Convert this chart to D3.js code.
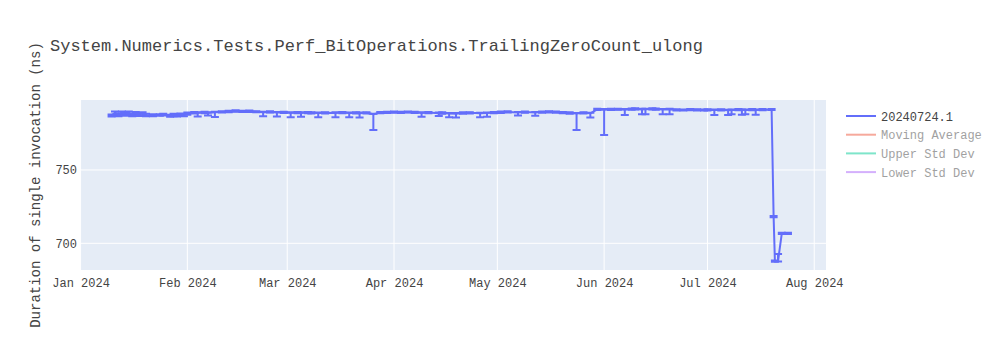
<!DOCTYPE html>
<html>
<head>
<meta charset="utf-8">
<script src="https://cdn.jsdelivr.net/npm/d3@7"></script>
<style>
  html, body { margin: 0; padding: 0; background: #fff; }
  svg { display: block; }
  text { font-family: "Liberation Mono", "Courier New", monospace; }
</style>
</head>
<body>
<svg id="chart" width="1000" height="350"></svg>
<script>
const chartTitle = "System.Numerics.Tests.Perf_BitOperations.TrailingZeroCount_ulong";
const yAxisTitle = "Duration of single invocation (ns)";
const legendNames = ["20240724.1", "Moving Average", "Upper Std Dev", "Lower Std Dev"];
const legendVisible = [true, false, false, false];
const xTickDates = ["2024-01-01","2024-02-01","2024-03-01","2024-04-01","2024-05-01","2024-06-01","2024-07-01","2024-08-01"];
const xTickLabels = ["Jan 2024","Feb 2024","Mar 2024","Apr 2024","May 2024","Jun 2024","Jul 2024","Aug 2024"];
const yTickValues = [700, 750];
const xDomain = ["2023-12-31T20:00", "2024-08-04T10:00"];
const yDomain = [681.8, 797.7];

const dates = [
 "2024-01-10","2024-01-11","2024-01-12","2024-01-13","2024-01-14","2024-01-15","2024-01-16","2024-01-17","2024-01-18","2024-01-19",
 "2024-01-20","2024-01-22","2024-01-24","2024-01-25","2024-01-27","2024-01-28","2024-01-29","2024-01-30","2024-01-31","2024-02-01",
 "2024-02-03","2024-02-04","2024-02-06","2024-02-07","2024-02-09","2024-02-11","2024-02-13","2024-02-15","2024-02-17","2024-02-19",
 "2024-02-21","2024-02-23","2024-02-25","2024-02-27","2024-02-29","2024-03-02","2024-03-04","2024-03-05","2024-03-07","2024-03-08",
 "2024-03-10","2024-03-12","2024-03-15","2024-03-17","2024-03-19","2024-03-21","2024-03-22","2024-03-24","2024-03-26","2024-03-28",
 "2024-03-30","2024-04-01","2024-04-03","2024-04-05","2024-04-07","2024-04-09","2024-04-11","2024-04-14","2024-04-15","2024-04-17",
 "2024-04-19","2024-04-21","2024-04-23","2024-04-26","2024-04-28","2024-04-30","2024-05-02","2024-05-04","2024-05-07","2024-05-09",
 "2024-05-12","2024-05-14","2024-05-16","2024-05-18","2024-05-20","2024-05-22","2024-05-24","2024-05-26","2024-05-28","2024-05-30",
 "2024-06-01","2024-06-03","2024-06-05","2024-06-07","2024-06-09","2024-06-10","2024-06-12","2024-06-13","2024-06-15","2024-06-16",
 "2024-06-18","2024-06-20","2024-06-22","2024-06-24","2024-06-26","2024-06-28","2024-06-30","2024-07-01","2024-07-03","2024-07-05",
 "2024-07-07","2024-07-08","2024-07-10","2024-07-11","2024-07-12","2024-07-14","2024-07-15","2024-07-17","2024-07-19T15:00","2024-07-20T05:00",
 "2024-07-20T14:00","2024-07-21T12:00","2024-07-22T14:00","2024-07-24T09:00"
];
const values = [
 787.2,789.0,787.6,789.3,787.9,789.1,787.5,788.9,787.8,788.7,
 787.5,787.3,787.5,787.8,787.0,787.6,787.1,787.9,787.4,788.5,
 789.1,788.8,789.3,788.9,789.3,789.6,789.8,790.2,790.0,790.1,
 789.7,789.3,789.6,789.2,789.3,788.9,789.2,788.9,789.1,789.0,
 788.8,789.0,788.9,789.1,788.8,789.0,788.7,789.0,788.0,789.1,
 789.3,789.4,789.3,789.5,789.3,788.9,789.1,788.7,788.9,788.5,
 788.4,788.9,789.0,788.6,788.8,789.2,789.4,789.6,789.2,789.5,
 789.1,789.5,789.7,789.5,789.2,788.9,788.5,789.0,788.6,791.3,
 791.1,791.3,791.4,791.1,791.5,791.6,791.3,791.4,791.6,791.5,
 791.2,791.3,791.0,790.9,791.1,791.0,790.9,791.0,790.8,791.0,
 790.7,790.9,791.1,790.8,790.9,791.1,790.9,791.1,791.2,718.2,
 687.8,688.0,706.8,706.8
];
const errMinus = [
 0.8,1.6,0.9,1.8,1.0,1.6,0.8,1.5,1.0,1.4,
 0.8,0.6,0.5,0.6,0.7,0.9,0.7,0.9,0.8,0.8,
 0.6,2.4,0.6,1.8,3.2,0.5,0.5,0.5,0.4,0.5,
 0.4,2.6,0.5,2.8,0.5,2.9,0.5,2.7,0.5,0.5,
 2.9,0.5,3.0,0.5,2.8,0.5,2.9,0.5,10.8,0.5,
 0.4,0.4,0.4,0.4,0.5,2.6,0.5,1.9,0.5,2.6,
 2.7,0.5,0.5,2.6,2.5,0.5,0.5,0.5,2.0,0.5,
 2.2,0.5,0.5,0.5,0.5,0.6,11.2,0.5,2.8,0.4,
 17.3,0.4,0.4,3.6,0.4,0.4,3.4,3.5,0.4,0.4,
 3.3,3.3,0.4,0.4,0.4,0.4,0.4,0.4,3.3,0.4,
 3.2,3.0,0.4,3.1,3.0,0.4,3.2,0.4,0.4,0.4,
 0.4,0.4,0.4,0.4
];
const errPlus = [
 0.6,0.8,1.0,0.6,1.1,0.7,1.0,0.6,0.9,0.7,
 0.8,0.6,0.5,0.6,0.7,0.7,0.8,0.6,0.8,0.6,
 0.5,0.5,0.4,0.4,0.4,0.4,0.5,0.5,0.4,0.4,
 0.4,0.4,0.4,0.4,0.4,0.4,0.4,0.4,0.4,0.4,
 0.4,0.4,0.4,0.4,0.4,0.4,0.4,0.4,0.4,0.4,
 0.4,0.4,0.4,0.4,0.4,0.4,0.4,0.4,0.4,0.4,
 0.4,0.4,0.4,0.4,0.4,0.4,0.4,0.4,0.4,0.4,
 0.4,0.4,0.4,0.4,0.4,0.4,0.4,0.4,0.4,0.4,
 0.4,0.4,0.4,0.4,0.4,0.4,0.4,0.4,0.4,0.4,
 0.4,0.4,0.4,0.4,0.4,0.4,0.4,0.4,0.4,0.4,
 0.4,0.4,0.4,0.4,0.4,0.4,0.4,0.4,0.4,0.4,
 0.4,4.7,0.4,0.4
];

const colors = ["#636efa", "#EF553B", "#00cc96", "#ab63fa"];

const parse = s => new Date(s.length > 10 ? s : s + "T00:00");
const data = dates.map((d, i) => ({ x: parse(d), y: values[i], lo: errMinus[i], hi: errPlus[i] }));

const svg = d3.select("#chart");
const plot = { left: 80, right: 826, top: 100, bottom: 270 };

const x = d3.scaleTime().domain(xDomain.map(parse)).range([plot.left, plot.right]);
const y = d3.scaleLinear().domain(yDomain).range([plot.bottom, plot.top]);

// background
svg.append("rect").attr("x", plot.left).attr("y", plot.top)
  .attr("width", plot.right - plot.left).attr("height", plot.bottom - plot.top)
  .attr("fill", "#e5ecf6");

// x grid + labels
const xTicks = xTickDates.map(parse);
const xAxis = d3.axisBottom(x).tickValues(xTicks).tickSize(0)
  .tickFormat((d, i) => xTickLabels[i]);
const gx = svg.append("g").attr("transform", `translate(0,${plot.bottom})`).call(xAxis);
gx.select(".domain").remove();
gx.selectAll("text").attr("fill", "#444").attr("font-size", 12)
  .attr("font-family", '"Liberation Mono", monospace').attr("dy", null).attr("y", 17);
svg.append("g").selectAll("line").data(xTicks).join("line")
  .attr("x1", d => x(d)).attr("x2", d => x(d))
  .attr("y1", plot.top).attr("y2", plot.bottom)
  .attr("stroke", "#fff").attr("stroke-width", 1);

// y grid + labels
const yAxis = d3.axisLeft(y).tickValues(yTickValues).tickSize(0).tickFormat(d3.format("d"));
const gy = svg.append("g").attr("transform", `translate(${plot.left - 2},0)`).call(yAxis);
gy.select(".domain").remove();
gy.selectAll("text").attr("fill", "#444").attr("font-size", 12)
  .attr("font-family", '"Liberation Mono", monospace').attr("x", -1);
svg.append("g").selectAll("line").data(yTickValues).join("line")
  .attr("x1", plot.left).attr("x2", plot.right)
  .attr("y1", d => y(d)).attr("y2", d => y(d))
  .attr("stroke", "#fff").attr("stroke-width", 1);

// clip
svg.append("clipPath").attr("id", "clip").append("rect")
  .attr("x", plot.left).attr("y", plot.top)
  .attr("width", plot.right - plot.left).attr("height", plot.bottom - plot.top);

const g = svg.append("g").attr("clip-path", "url(#clip)");

// error bars
const eb = g.append("g").attr("stroke", colors[0]).attr("stroke-width", 2).attr("fill", "none");
const capW = 4;
eb.selectAll("path").data(data).join("path")
  .attr("d", d => {
    const cx = x(d.x), yt = y(d.y + d.hi), yb = y(d.y - d.lo);
    return `M${cx - capW},${yt}h${2 * capW}m-${capW},0V${yb}m-${capW},0h${2 * capW}`;
  });

// line
const line = d3.line().x(d => x(d.x)).y(d => y(d.y));
g.append("path").datum(data).attr("d", line)
  .attr("fill", "none").attr("stroke", colors[0]).attr("stroke-width", 2)
  .attr("stroke-linejoin", "round");

// title
svg.append("text").attr("x", 50).attr("y", 51).attr("font-size", 17)
  .attr("fill", "#444").text(chartTitle);

// y axis title
svg.append("text").attr("transform", `translate(40,185) rotate(-90)`)
  .attr("text-anchor", "middle").attr("font-size", 14).attr("fill", "#444")
  .text(yAxisTitle);

// legend
const lg = svg.append("g").attr("transform", "translate(846,116)");
const items = lg.selectAll("g").data(legendNames).join("g")
  .attr("transform", (d, i) => `translate(0,${i * 18.7})`)
  .attr("opacity", (d, i) => legendVisible[i] ? 1 : 0.5);
items.append("line").attr("x1", 0).attr("x2", 30).attr("y1", 0).attr("y2", 0)
  .attr("stroke", (d, i) => colors[i]).attr("stroke-width", 2);
items.append("text").attr("x", 35).attr("y", 4.5).attr("font-size", 12)
  .attr("fill", "#444").text(d => d);
</script>
</body>
</html>
